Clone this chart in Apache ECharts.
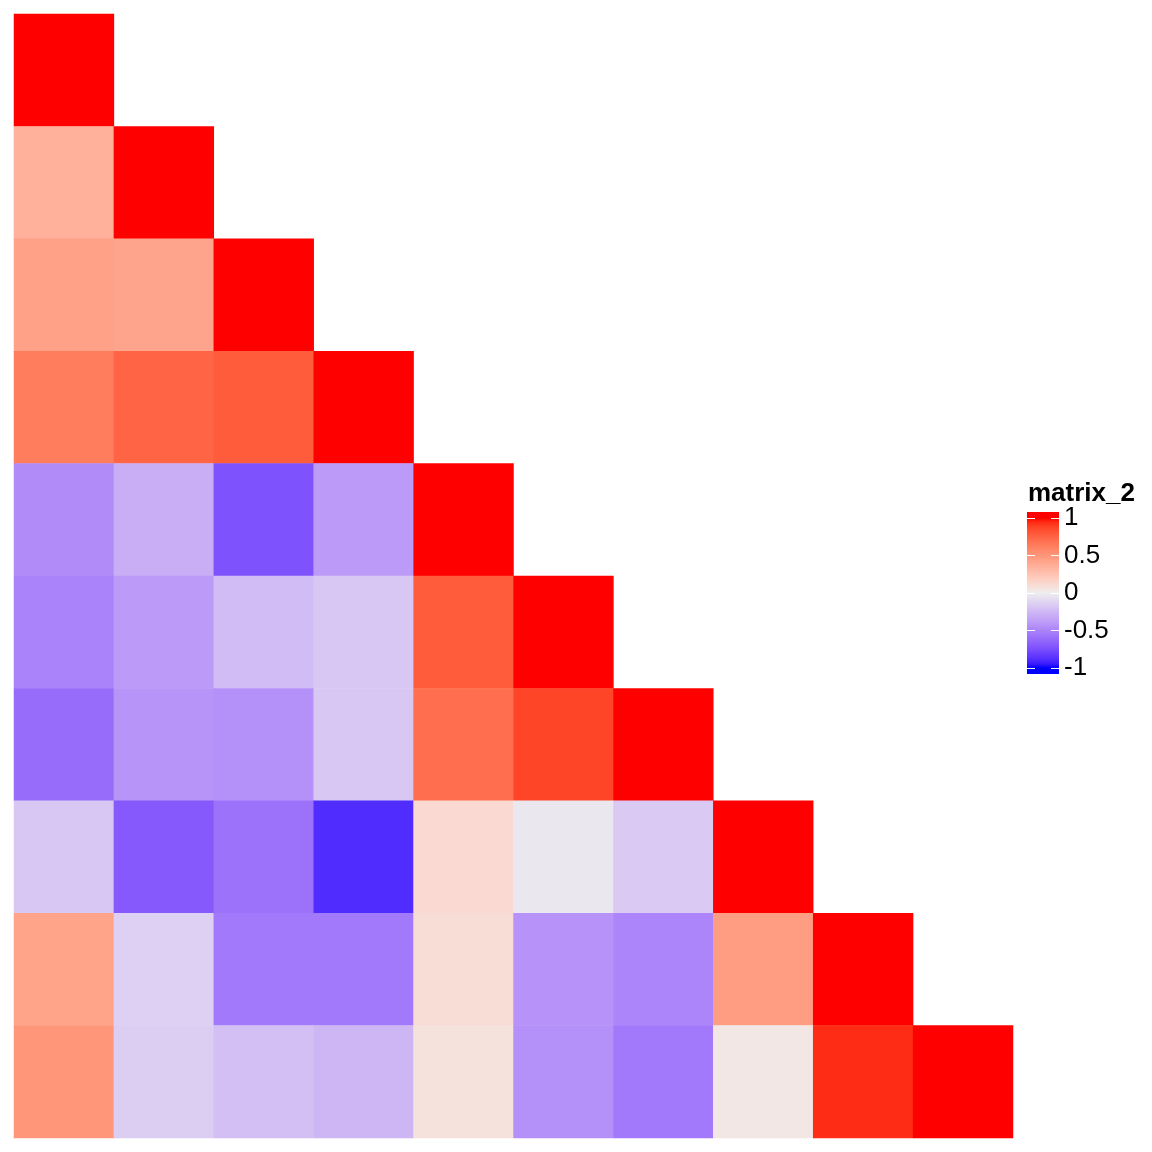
<!DOCTYPE html>
<html>
<head>
<meta charset="utf-8">
<script src="https://cdn.jsdelivr.net/npm/echarts@6/dist/echarts.min.js"></script>
<style>
  html, body { margin: 0; padding: 0; background: #fff; }
</style>
</head>
<body>
<div id="chart" style="width:1152px; height:1152px;"></div>
<script type="text/javascript">
// variables (row/column order of the matrix)
var vars = ['V1', 'V2', 'V3', 'V4', 'V5', 'V6', 'V7', 'V8', 'V9', 'V10'];

// lower triangle
var row1  = [1];
var row2  = [0.35, 1];
var row3  = [0.44, 0.42, 1];
var row4  = [0.63, 0.74, 0.78, 1];
var row5  = [-0.46, -0.30, -0.73, -0.39, 1];
var row6  = [-0.50, -0.39, -0.23, -0.18, 0.78, 1];
var row7  = [-0.61, -0.42, -0.44, -0.18, 0.70, 0.87, 1];
var row8  = [-0.18, -0.70, -0.58, -0.89, 0.12, -0.03, -0.17, 1];
var row9  = [0.43, -0.14, -0.55, -0.55, 0.10, -0.43, -0.49, 0.46, 1];
var row10 = [0.50, -0.15, -0.22, -0.26, 0.07, -0.44, -0.55, 0.04, 0.94, 1];
var rows = [row1, row2, row3, row4, row5, row6, row7, row8, row9, row10];

var legendTitle = 'matrix_2';
var legendTicks = [-1, -0.5, 0, 0.5, 1];

// colour ramp blue -> #EEEEEE -> red, interpolated in LAB like colorRamp2
function hexToLab(hex) {
  var c = [1, 3, 5].map(function (i) {
    var v = parseInt(hex.substr(i, 2), 16) / 255;
    return v <= 0.04045 ? v / 12.92 : Math.pow((v + 0.055) / 1.055, 2.4);
  });
  var x = (0.4124 * c[0] + 0.3576 * c[1] + 0.1805 * c[2]) / 0.95047;
  var y = (0.2126 * c[0] + 0.7152 * c[1] + 0.0722 * c[2]);
  var z = (0.0193 * c[0] + 0.1192 * c[1] + 0.9505 * c[2]) / 1.08883;
  var f = function (t) { return t > 0.008856 ? Math.cbrt(t) : 7.787 * t + 16 / 116; };
  return [116 * f(y) - 16, 500 * (f(x) - f(y)), 200 * (f(y) - f(z))];
}
function labToHex(lab) {
  var fy = (lab[0] + 16) / 116, fx = fy + lab[1] / 500, fz = fy - lab[2] / 200;
  var g = function (t) { return t > 0.206893 ? t * t * t : (t - 16 / 116) / 7.787; };
  var x = g(fx) * 0.95047, y = g(fy), z = g(fz) * 1.08883;
  var rgb = [
    3.2406 * x - 1.5372 * y - 0.4986 * z,
    -0.9689 * x + 1.8758 * y + 0.0415 * z,
    0.0557 * x - 0.2040 * y + 1.0570 * z
  ];
  return '#' + rgb.map(function (v) {
    v = v <= 0.0031308 ? 12.92 * v : 1.055 * Math.pow(v, 1 / 2.4) - 0.055;
    v = Math.round(Math.max(0, Math.min(1, v)) * 255);
    return (v < 16 ? '0' : '') + v.toString(16);
  }).join('');
}
var labBlue = hexToLab('#0000FF'), labMid = hexToLab('#EEEEEE'), labRed = hexToLab('#FF0000');
function rampColor(v) {
  var a = labMid, b = v < 0 ? labBlue : labRed, t = Math.abs(v);
  return labToHex([0, 1, 2].map(function (i) { return a[i] + (b[i] - a[i]) * t; }));
}
var nStops = 40;
var rampColors = [];
for (var i = 0; i <= nStops; i++) rampColors.push(rampColor(-1 + 2 * i / nStops));

// heatmap data
var data = [];
rows.forEach(function (r, yi) {
  r.forEach(function (v, xi) { data.push([xi, yi, v]); });
});

var chart = echarts.init(document.getElementById('chart'));
var font = 'Liberation Sans, Arial, Helvetica, sans-serif';

var option = {
  backgroundColor: '#ffffff',
  animation: false,
  title: {
    text: legendTitle,
    left: 1023,
    top: 476,
    textStyle: { fontFamily: font, fontSize: 26, fontWeight: 'bold', color: '#000' }
  },
  grid: [
    { left: 14, top: 14, width: 999, height: 1124 },
    { left: 1027, top: 518, width: 32, height: 150 }
  ],
  xAxis: [
    { type: 'category', data: vars, gridIndex: 0, show: false },
    { type: 'value', gridIndex: 1, min: 0, max: 1, show: false }
  ],
  yAxis: [
    { type: 'category', data: vars, gridIndex: 0, inverse: true, show: false },
    {
      type: 'value', gridIndex: 1, min: -1, max: 1, interval: 0.5,
      position: 'right', z: 10,
      axisLine: { show: false },
      axisTick: { show: false },
      axisLabel: {
        margin: 5, fontFamily: font, fontSize: 26, color: '#000',
        padding: [5, 0, 0, 0],
        formatter: function (v) { return legendTicks.indexOf(v) >= 0 ? String(v) : ''; }
      },
      splitLine: { show: true, lineStyle: { color: '#ffffff', width: 1.2, type: [8, 16] } }
    }
  ],
  visualMap: {
    type: 'continuous', show: false, min: -1, max: 1, seriesIndex: 0,
    inRange: { color: rampColors }
  },
  series: [
    {
      type: 'heatmap',
      xAxisIndex: 0, yAxisIndex: 0,
      data: data,
      itemStyle: { borderWidth: 0 },
      emphasis: { disabled: true }
    },
    {
      type: 'custom',
      xAxisIndex: 1, yAxisIndex: 1, z: 1,
      data: [[0, 0]],
      renderItem: function (params, api) {
        var top = api.coord([0, 1]), bot = api.coord([0, -1]);
        var ext = 6;
        var h = bot[1] - top[1];
        var vTop = 1 + 2 * ext / h, vBot = -1 - 2 * ext / h;
        var stops = rampColors.map(function (c, i) {
          var v = -1 + 2 * i / nStops;
          return { offset: (vTop - v) / (vTop - vBot), color: c };
        }).reverse();
        return {
          type: 'rect',
          shape: { x: params.coordSys.x, y: top[1] - ext, width: params.coordSys.width, height: h + 2 * ext },
          style: { fill: new echarts.graphic.LinearGradient(0, 0, 0, 1, stops) }
        };
      }
    }
  ]
};

chart.setOption(option);
</script>
</body>
</html>
